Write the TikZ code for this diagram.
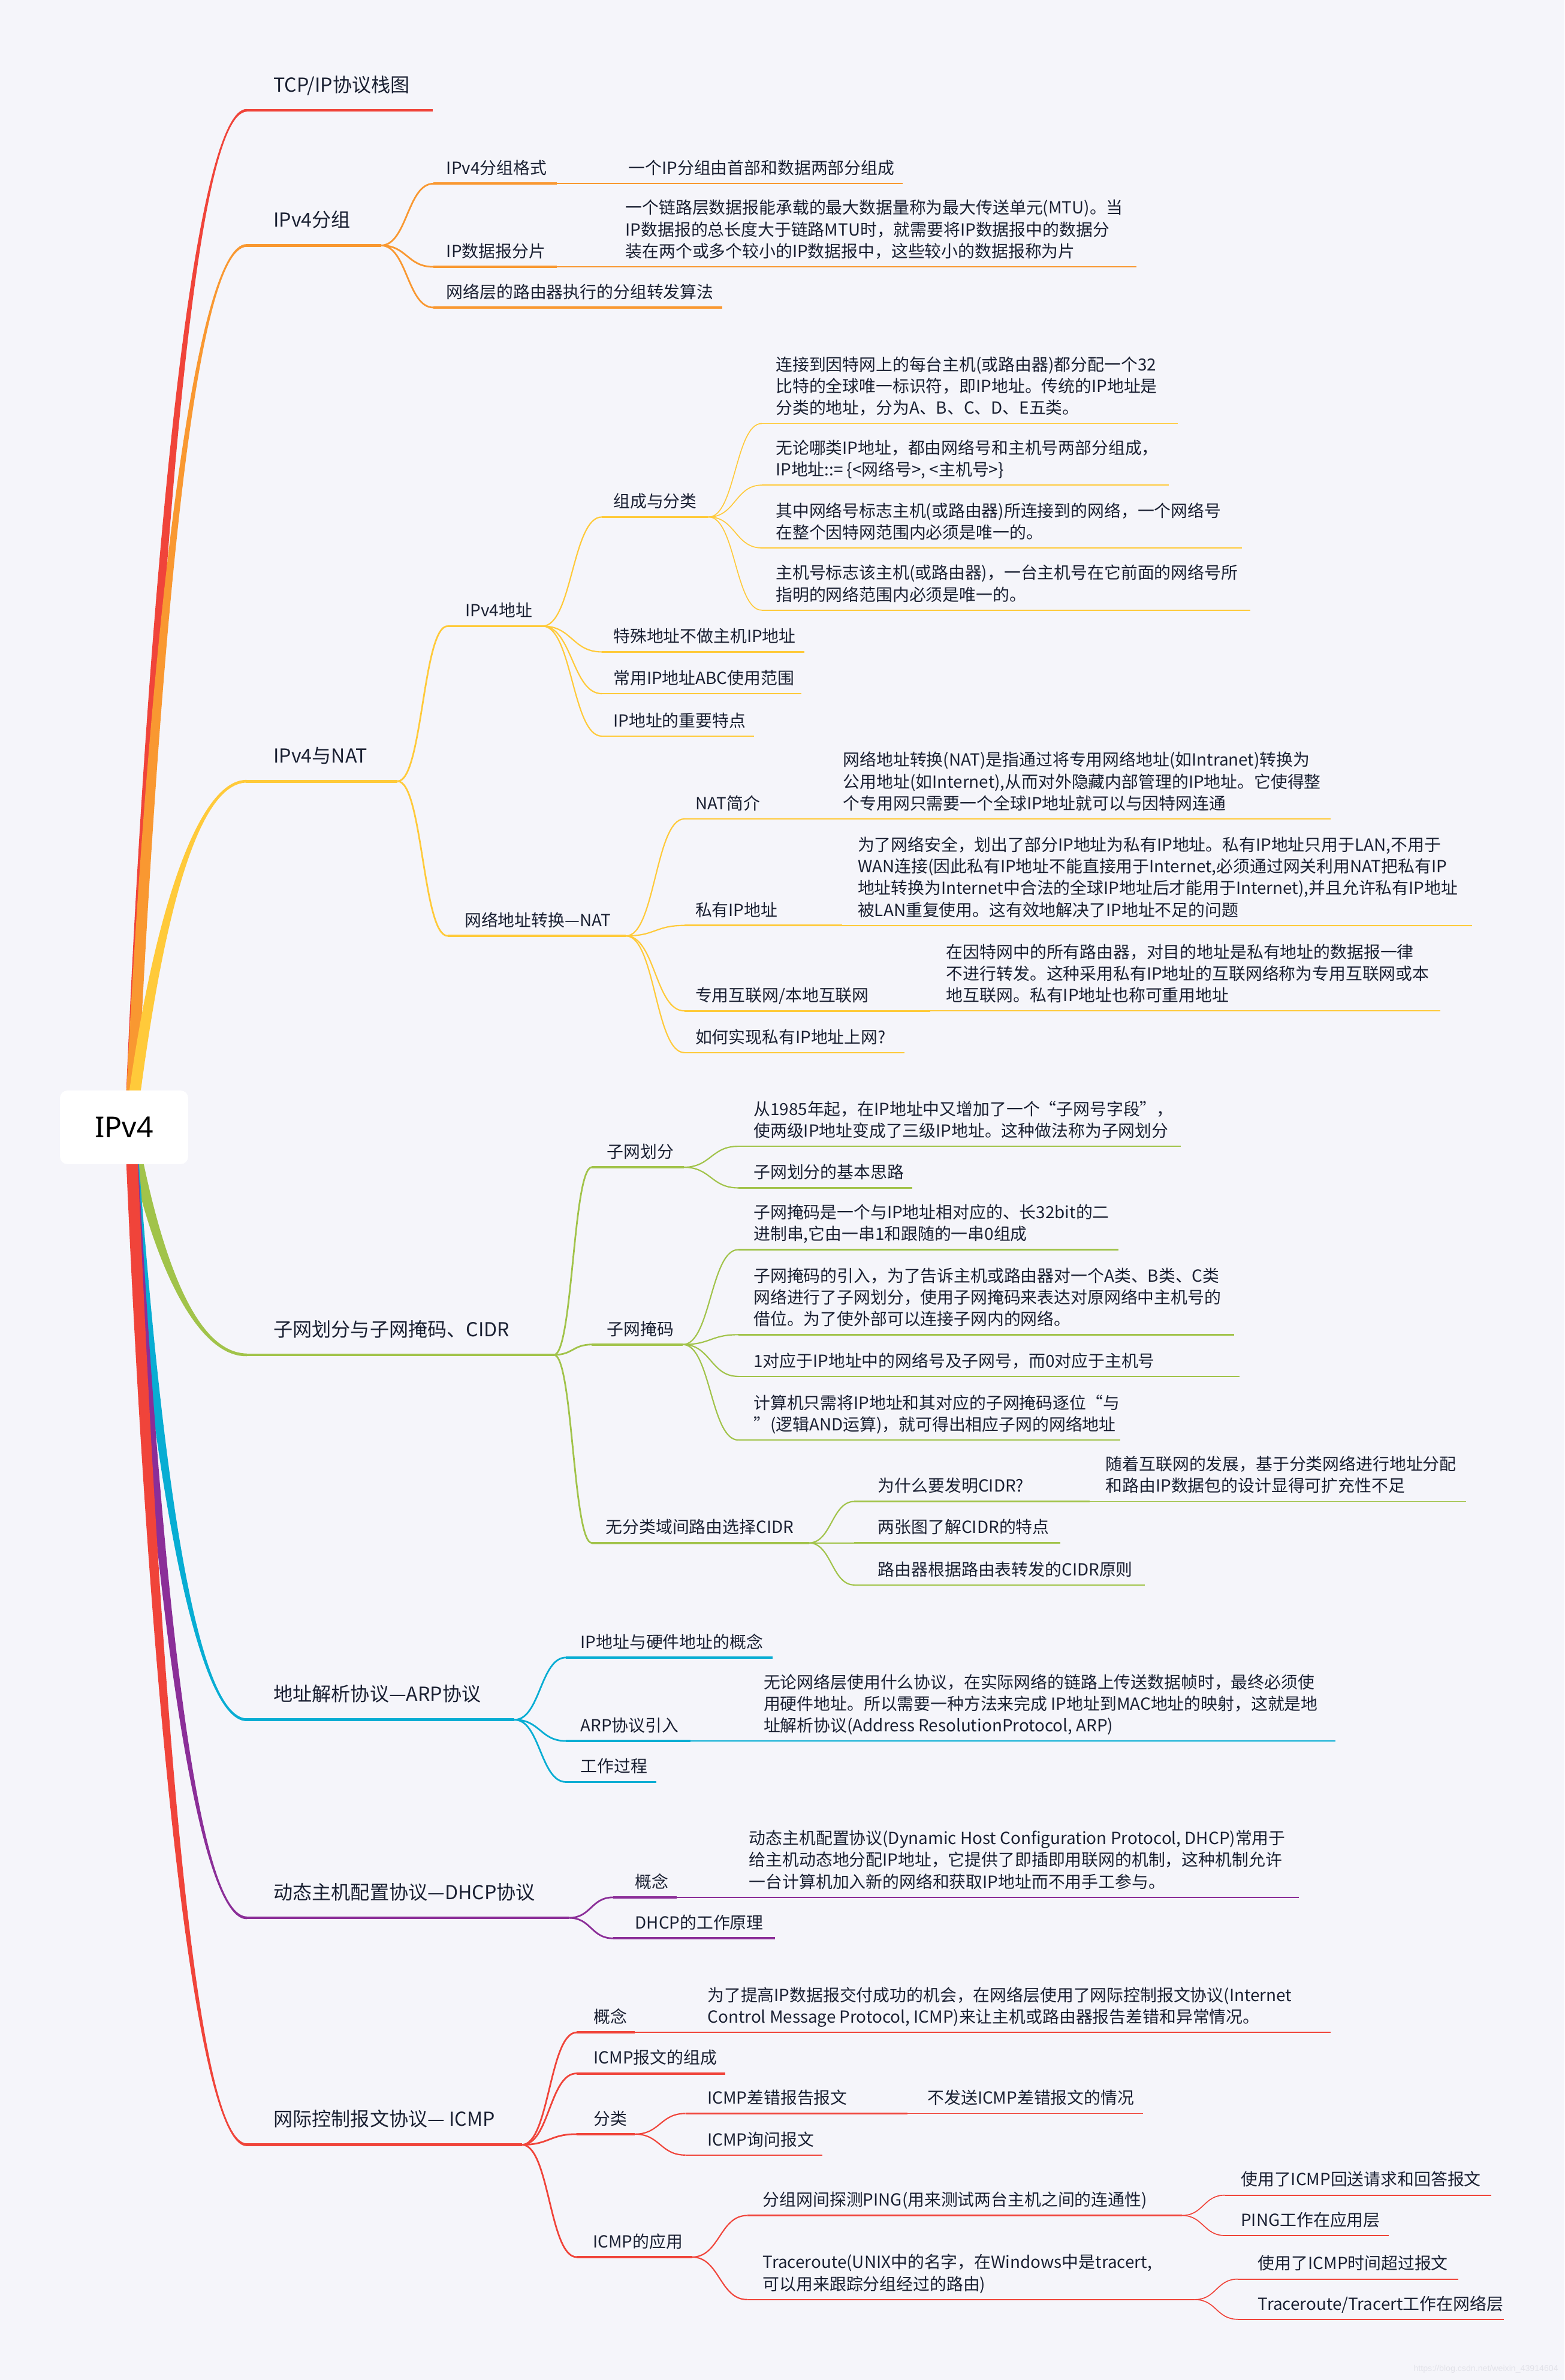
\documentclass[tikz,border=0pt]{standalone}
\usepackage{fontspec}
\setmainfont{Noto Sans CJK SC}
\newfontfamily\rootfont{Noto Sans}
\newfontfamily\wmfont{Liberation Sans}
\usetikzlibrary{calc}
\definecolor{bg}{RGB}{245,245,250}
\definecolor{ink}{RGB}{26,32,50}
\definecolor{cred}{RGB}{240,68,58}
\definecolor{corange}{RGB}{249,152,49}
\definecolor{cyellow}{RGB}{255,202,58}
\definecolor{cgreen}{RGB}{161,195,74}
\definecolor{cblue}{RGB}{8,173,211}
\definecolor{cpurple}{RGB}{139,46,152}
\definecolor{wm}{RGB}{226,226,233}
\tikzset{
  tA/.style={font=\fontsize{12.7}{15}\selectfont, text=ink, inner sep=0pt, text depth=0pt, anchor=south west},
  tB/.style={font=\fontsize{11}{14.3}\selectfont, text=ink, inner sep=0pt, text depth=0pt, anchor=south west, align=left},
  uA/.style={line width=1.9pt},
  uB/.style={line width=1.5pt},
  uC/.style={line width=1.0pt},
  uD/.style={line width=0.7pt},
  cB/.style={line width=1.1pt},
  cC/.style={line width=0.85pt},
  cD/.style={line width=0.65pt},
  rootbox/.style={fill=white, rounded corners=5pt, minimum width=84.5pt, minimum height=48.5pt, inner sep=0pt, font=\rootfont\fontsize{19}{22}\selectfont, text=black},
}
% underline with named ends
\newcommand{\mmline}[5]{\coordinate (#1-s) at (#2,#4); \coordinate (#1-e) at (#3,#4); \draw[#5] (#1-s) -- (#1-e);}
% text above an underline
\newcommand{\ttA}[4]{\node[tA] (#1) at (#2,#3-12) {#4};}
\newcommand{\ttB}[4]{\node[tB] (#1) at (#2,#3-6) {#4};}
% S-shaped connector from end of parent to start of child
\newcommand{\conn}[3]{\draw[#3] let \p1=(#1-e), \p2=(#2-s) in (\p1) .. controls ({0.5*\x1+0.5*\x2},\y1) and ({0.5*\x1+0.5*\x2},\y2) .. (\p2);}
% tapered main branch from the root
\newcommand{\mainlink}[3]{\fill[#2] let \p1=(rootc), \p2=(#1-s) in
  (\x1-3.8pt,\y1) .. controls ({\x1+0.2*(\x2-\x1)-3.8pt},{\y1+0.55*(\y2-\y1)}) and ({\x1+0.55*(\x2-\x1)},{\y2+(#3)*1.4pt}) .. ({\x2+0.6pt},{\y2+(#3)*0.9pt})
  -- ({\x2+0.6pt},{\y2-(#3)*0.9pt}) .. controls ({\x1+0.55*(\x2-\x1)},{\y2-(#3)*1.4pt}) and ({\x1+0.2*(\x2-\x1)+3.8pt},{\y1+0.55*(\y2-\y1)}) .. (\x1+3.8pt,\y1) -- cycle;}
\begin{document}
\begin{tikzpicture}[x=1pt,y=-1pt]
\path[use as bounding box, fill=bg] (0,0) rectangle (1031,1568);
\coordinate (rootc) at (86,742);

% ---------- level 1 ----------
\mmline{tcp}{162}{285}{72.7}{uA,cred}
\ttA{tcpT}{180}{72.7}{TCP/IP协议栈图}
\mmline{grp}{162}{251}{161.7}{uA,corange}
\ttA{grpT}{180}{161.7}{IPv4分组}
\mmline{nat}{162}{262}{514.7}{uA,cyellow}
\ttA{natT}{180}{514.7}{IPv4与NAT}
\mmline{sub}{162}{365}{892.6}{uA,cgreen}
\ttA{subT}{180}{892.6}{子网划分与子网掩码、CIDR}
\mmline{arp}{162}{339}{1133}{uA,cblue}
\ttA{arpT}{180}{1133}{地址解析协议—ARP协议}
\mmline{dhcp}{162}{375}{1263.5}{uA,cpurple}
\ttA{dhcpT}{180}{1263.5}{动态主机配置协议—DHCP协议}
\mmline{icmp}{162}{344}{1413}{uA,cred}
\ttA{icmpT}{180}{1413}{网际控制报文协议— ICMP}

\mainlink{tcp}{cred}{1}
\mainlink{grp}{corange}{1}
\mainlink{nat}{cyellow}{1}
\mainlink{sub}{cgreen}{-1}
\mainlink{arp}{cblue}{-1}
\mainlink{dhcp}{cpurple}{-1}
\mainlink{icmp}{cred}{-1}

% ---------- IPv4分组 ----------
\mmline{g1}{285.6}{367}{121}{uB,corange}
\ttB{g1T}{294}{121}{IPv4分组格式}
\mmline{g1d}{367}{595}{121}{uD,corange}
\ttB{g1dT}{414}{121}{一个IP分组由首部和数据两部分组成}
\conn{grp}{g1}{cB,corange}
\mmline{g2}{285.6}{367}{175.8}{uB,corange}
\ttB{g2T}{294}{175.8}{IP数据报分片}
\mmline{g2d}{367}{749}{175.8}{uD,corange}
\ttB{g2dT}{412}{175.8}{一个链路层数据报能承载的最大数据量称为最大传送单元(MTU)。当\\IP数据报的总长度大于链路MTU时，就需要将IP数据报中的数据分\\装在两个或多个较小的IP数据报中，这些较小的数据报称为片}
\conn{grp}{g2}{cB,corange}
\mmline{g3}{285.6}{476}{202.6}{uB,corange}
\ttB{g3T}{294}{202.6}{网络层的路由器执行的分组转发算法}
\conn{grp}{g3}{cB,corange}

% ---------- IPv4与NAT ----------
\mmline{na}{295}{357.5}{412.5}{uB,cyellow}
\ttB{naT}{306.5}{412.5}{IPv4地址}
\conn{nat}{na}{cB,cyellow}
\mmline{na1}{396.6}{467}{340.6}{uC,cyellow}
\ttB{na1T}{404}{340.6}{组成与分类}
\conn{na}{na1}{cC,cyellow}
\mmline{na1a}{502}{776}{279}{uD,cyellow}
\ttB{na1aT}{511}{279}{连接到因特网上的每台主机(或路由器)都分配一个32\\比特的全球唯一标识符，即IP地址。传统的IP地址是\\分类的地址，分为A、B、C、D、E五类。}
\conn{na1}{na1a}{cD,cyellow}
\mmline{na1b}{502}{770}{319.6}{uD,cyellow}
\ttB{na1bT}{511}{319.6}{无论哪类IP地址，都由网络号和主机号两部分组成，\\IP地址::= \{<网络号>, <主机号>\}}
\conn{na1}{na1b}{cD,cyellow}
\mmline{na1c}{502}{818.5}{361}{uD,cyellow}
\ttB{na1cT}{511}{361}{其中网络号标志主机(或路由器)所连接到的网络，一个网络号\\在整个因特网范围内必须是唯一的。}
\conn{na1}{na1c}{cD,cyellow}
\mmline{na1d}{502}{824}{402}{uD,cyellow}
\ttB{na1dT}{511}{402}{主机号标志该主机(或路由器)，一台主机号在它前面的网络号所\\指明的网络范围内必须是唯一的。}
\conn{na1}{na1d}{cD,cyellow}
\mmline{na2}{396.6}{530}{429.5}{uC,cyellow}
\ttB{na2T}{404}{429.5}{特殊地址不做主机IP地址}
\conn{na}{na2}{cC,cyellow}
\mmline{na3}{396.6}{528}{457}{uC,cyellow}
\ttB{na3T}{404}{457}{常用IP地址ABC使用范围}
\conn{na}{na3}{cC,cyellow}
\mmline{na4}{396.6}{497}{485}{uC,cyellow}
\ttB{na4T}{404}{485}{IP地址的重要特点}
\conn{na}{na4}{cC,cyellow}

\mmline{nb}{295}{412.5}{616.6}{uB,cyellow}
\ttB{nbT}{306}{616.6}{网络地址转换—NAT}
\conn{nat}{nb}{cB,cyellow}
\mmline{nb1}{451}{545}{539.5}{uC,cyellow}
\ttB{nb1T}{458}{539.5}{NAT简介}
\mmline{nb1d}{545}{877}{539.5}{uD,cyellow}
\ttB{nb1dT}{555.4}{539.5}{网络地址转换(NAT)是指通过将专用网络地址(如Intranet)转换为\\公用地址(如Internet),从而对外隐藏内部管理的IP地址。它使得整\\个专用网只需要一个全球IP地址就可以与因特网连通}
\conn{nb}{nb1}{cC,cyellow}
\mmline{nb2}{451}{555}{609.7}{uC,cyellow}
\ttB{nb2T}{458}{609.7}{私有IP地址}
\mmline{nb2d}{555}{970}{609.7}{uD,cyellow}
\ttB{nb2dT}{565}{609.7}{为了网络安全，划出了部分IP地址为私有IP地址。私有IP地址只用于LAN,不用于\\WAN连接(因此私有IP地址不能直接用于Internet,必须通过网关利用NAT把私有IP\\地址转换为Internet中合法的全球IP地址后才能用于Internet),并且允许私有IP地址\\被LAN重复使用。这有效地解决了IP地址不足的问题}
\conn{nb}{nb2}{cC,cyellow}
\mmline{nb3}{451}{613}{666}{uC,cyellow}
\ttB{nb3T}{458}{666}{专用互联网/本地互联网}
\mmline{nb3d}{613}{949}{666}{uD,cyellow}
\ttB{nb3dT}{623.4}{666}{在因特网中的所有路由器，对目的地址是私有地址的数据报一律\\不进行转发。这种采用私有IP地址的互联网络称为专用互联网或本\\地互联网。私有IP地址也称可重用地址}
\conn{nb}{nb3}{cC,cyellow}
\mmline{nb4}{451}{596}{693.5}{uC,cyellow}
\ttB{nb4T}{458}{693.5}{如何实现私有IP地址上网?}
\conn{nb}{nb4}{cC,cyellow}

% ---------- 子网 ----------
\mmline{s1}{390}{450.5}{769}{uB,cgreen}
\ttB{s1T}{399.7}{769}{子网划分}
\conn{sub}{s1}{cB,cgreen}
\mmline{s1a}{486.5}{778}{755.2}{uC,cgreen}
\ttB{s1aT}{496.4}{755.2}{从1985年起，在IP地址中又增加了一个“子网号字段”，\\使两级IP地址变成了三级IP地址。这种做法称为子网划分}
\conn{s1}{s1a}{cC,cgreen}
\mmline{s1b}{486.5}{601}{782.6}{uC,cgreen}
\ttB{s1bT}{496.4}{782.6}{子网划分的基本思路}
\conn{s1}{s1b}{cC,cgreen}
\mmline{s2}{390}{450}{885.8}{uB,cgreen}
\ttB{s2T}{399.7}{885.8}{子网掩码}
\conn{sub}{s2}{cB,cgreen}
\mmline{s2a}{486.5}{737}{823.3}{uC,cgreen}
\ttB{s2aT}{496.4}{823.3}{子网掩码是一个与IP地址相对应的、长32bit的二\\进制串,它由一串1和跟随的一串0组成}
\conn{s2}{s2a}{cC,cgreen}
\mmline{s2b}{486.5}{813.4}{879.3}{uC,cgreen}
\ttB{s2bT}{496.4}{879.3}{子网掩码的引入，为了告诉主机或路由器对一个A类、B类、C类\\网络进行了子网划分，使用子网掩码来表达对原网络中主机号的\\借位。为了使外部可以连接子网内的网络。}
\conn{s2}{s2b}{cC,cgreen}
\mmline{s2c}{486.5}{816.6}{906.8}{uC,cgreen}
\ttB{s2cT}{496.4}{906.8}{1对应于IP地址中的网络号及子网号，而0对应于主机号}
\conn{s2}{s2c}{cC,cgreen}
\mmline{s2d}{486.5}{738}{948.7}{uC,cgreen}
\ttB{s2dT}{496.4}{948.7}{计算机只需将IP地址和其对应的子网掩码逐位“与\\”(逻辑AND运算)，就可得出相应子网的网络地址}
\conn{s2}{s2d}{cC,cgreen}
\mmline{s3}{390}{533}{1016.5}{uB,cgreen}
\ttB{s3T}{399}{1016.5}{无分类域间路由选择CIDR}
\conn{sub}{s3}{cB,cgreen}
\mmline{s3a}{563}{718}{989.2}{uC,cgreen}
\ttB{s3aT}{578.4}{989.2}{为什么要发明CIDR?}
\mmline{s3ad}{718}{966}{989.2}{uD,cgreen}
\ttB{s3adT}{728.4}{989.2}{随着互联网的发展，基于分类网络进行地址分配\\和路由IP数据包的设计显得可扩充性不足}
\conn{s3}{s3a}{cC,cgreen}
\mmline{s3b}{563}{698.8}{1016.5}{uC,cgreen}
\ttB{s3bT}{578.4}{1016.5}{两张图了解CIDR的特点}
\conn{s3}{s3b}{cC,cgreen}
\mmline{s3c}{563}{754.5}{1044.2}{uC,cgreen}
\ttB{s3cT}{578.4}{1044.2}{路由器根据路由表转发的CIDR原则}
\conn{s3}{s3c}{cC,cgreen}

% ---------- ARP ----------
\mmline{r1}{373}{509}{1092}{uB,cblue}
\ttB{r1T}{382.4}{1092}{IP地址与硬件地址的概念}
\conn{arp}{r1}{cB,cblue}
\mmline{r2}{373}{455}{1147}{uB,cblue}
\ttB{r2T}{382.4}{1147}{ARP协议引入}
\mmline{r2d}{455}{880}{1147}{uD,cblue}
\ttB{r2dT}{503}{1147}{无论网络层使用什么协议，在实际网络的链路上传送数据帧时，最终必须使\\用硬件地址。所以需要一种方法来完成 IP地址到MAC地址的映射，这就是地\\址解析协议(Address ResolutionProtocol, ARP)}
\conn{arp}{r2}{cB,cblue}
\mmline{r3}{373}{432.6}{1174}{uB,cblue}
\ttB{r3T}{382.4}{1174}{工作过程}
\conn{arp}{r3}{cB,cblue}

% ---------- DHCP ----------
\mmline{h1}{404}{446}{1250}{uB,cpurple}
\ttB{h1T}{418.3}{1250}{概念}
\mmline{h1d}{446}{856}{1250}{uD,cpurple}
\ttB{h1dT}{493.4}{1250}{动态主机配置协议(Dynamic Host Configuration Protocol, DHCP)常用于\\给主机动态地分配IP地址，它提供了即插即用联网的机制，这种机制允许\\一台计算机加入新的网络和获取IP地址而不用手工参与。}
\conn{dhcp}{h1}{cB,cpurple}
\mmline{h2}{404}{510.7}{1277}{uB,cpurple}
\ttB{h2T}{418.3}{1277}{DHCP的工作原理}
\conn{dhcp}{h2}{cB,cpurple}

% ---------- ICMP ----------
\mmline{i1}{380}{418.3}{1339}{uB,cred}
\ttB{i1T}{391}{1339}{概念}
\mmline{i1d}{418.3}{877}{1339}{uD,cred}
\ttB{i1dT}{466}{1339}{为了提高IP数据报交付成功的机会，在网络层使用了网际控制报文协议(Internet\\Control Message Protocol, ICMP)来让主机或路由器报告差错和异常情况。}
\conn{icmp}{i1}{cB,cred}
\mmline{i2}{380}{478}{1366}{uB,cred}
\ttB{i2T}{391}{1366}{ICMP报文的组成}
\conn{icmp}{i2}{cB,cred}
\mmline{i3}{380}{418.3}{1406}{uB,cred}
\ttB{i3T}{391}{1406}{分类}
\conn{icmp}{i3}{cB,cred}
\mmline{i3a}{451.7}{598}{1392.4}{uC,cred}
\ttB{i3aT}{466}{1392.4}{ICMP差错报告报文}
\mmline{i3ad}{598}{753.3}{1392.4}{uD,cred}
\ttB{i3adT}{611}{1392.4}{不发送ICMP差错报文的情况}
\conn{i3}{i3a}{cC,cred}
\mmline{i3b}{451.7}{541.8}{1419.8}{uC,cred}
\ttB{i3bT}{466}{1419.8}{ICMP询问报文}
\conn{i3}{i3b}{cC,cred}
\mmline{i4}{380}{456}{1487}{uB,cred}
\ttB{i4T}{390.5}{1487}{ICMP的应用}
\conn{icmp}{i4}{cB,cred}
\mmline{i4a}{492.4}{778.8}{1459.6}{uC,cred}
\ttB{i4aT}{502.5}{1459.6}{分组网间探测PING(用来测试两台主机之间的连通性)}
\conn{i4}{i4a}{cC,cred}
\mmline{i4a1}{807.2}{982.6}{1446.2}{uD,cred}
\ttB{i4a1T}{817.5}{1446.2}{使用了ICMP回送请求和回答报文}
\conn{i4a}{i4a1}{cD,cred}
\mmline{i4a2}{807.2}{915.3}{1472.8}{uD,cred}
\ttB{i4a2T}{817.5}{1472.8}{PING工作在应用层}
\conn{i4a}{i4a2}{cD,cred}
\mmline{i4b}{492.4}{787.3}{1515}{uC,cred}
\ttB{i4bT}{502.5}{1515}{Traceroute(UNIX中的名字，在Windows中是tracert,\\可以用来跟踪分组经过的路由)}
\conn{i4}{i4b}{cC,cred}
\mmline{i4b1}{815.7}{961}{1501.5}{uD,cred}
\ttB{i4b1T}{828.8}{1501.5}{使用了ICMP时间超过报文}
\conn{i4b}{i4b1}{cD,cred}
\mmline{i4b2}{815.7}{991}{1528}{uD,cred}
\ttB{i4b2T}{828.8}{1528}{Traceroute/Tracert工作在网络层}
\conn{i4b}{i4b2}{cD,cred}

% ---------- root ----------
\node[rootbox] (root) at (81.75,742.7) {IPv4};

% watermark
\node[font=\wmfont\fontsize{5.6}{6}\selectfont, text=wm, anchor=east, inner sep=0pt] (wm) at (1027,1561) {https://blog.csdn.net/weixin\_43914604};
\end{tikzpicture}
\end{document}
